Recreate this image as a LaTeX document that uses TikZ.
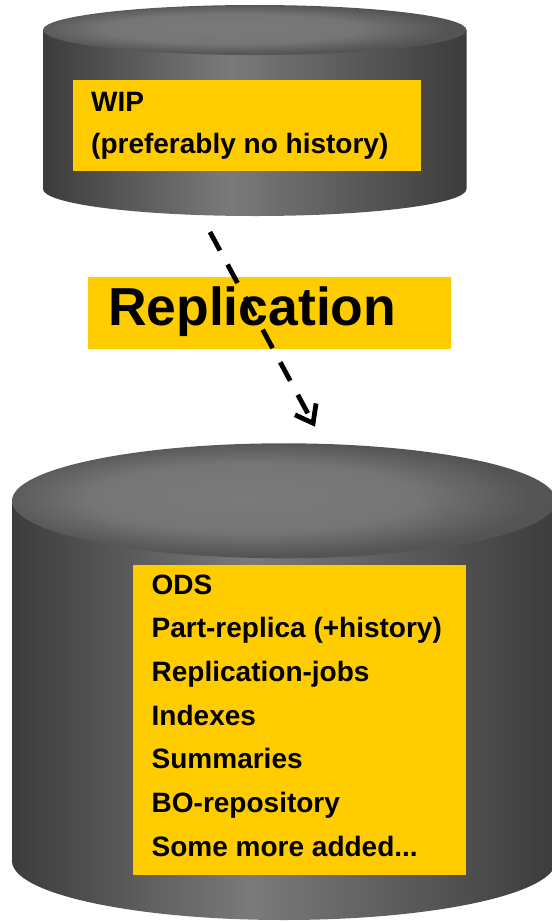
\documentclass[tikz,border=0pt]{standalone}
\usepackage{fontspec}
\setmainfont{Liberation Sans}
\usetikzlibrary{arrows.meta}
\definecolor{dbyellow}{HTML}{FFCC00}
\definecolor{cyldark}{HTML}{3C3C3C}
\definecolor{cyllight}{HTML}{7A7A7A}
\definecolor{cylrim}{HTML}{545454}
\pgfdeclarehorizontalshading{cylside}{100bp}{color(0bp)=(cyldark); color(25bp)=(cyldark); color(47bp)=(cyllight); color(75bp)=(cyldark); color(100bp)=(cyldark)}
\pgfdeclareradialshading{cyltop}{\pgfpoint{-4bp}{2bp}}{color(0bp)=(cyllight); color(15bp)=(cyllight!96!black); color(25bp)=(cylrim); color(50bp)=(cylrim)}
\newcommand{\moredots}{...}
\tikzset{
  dbbox/.style={fill=dbyellow, inner sep=0pt},
  dbtext/.style={anchor=base west, inner sep=0pt, font=\fontsize{28}{34}\selectfont\bfseries},
}
\begin{document}
\begin{tikzpicture}[x=1pt,y=-1pt]
\useasboundingbox (0,0) rectangle (552,922);
% WIP database
\shade[shading=cylside] (43,30) -- (43,189) arc[start angle=180,end angle=0,x radius=211.75,y radius=27] -- (466.5,30) -- cycle;
\shade[shading=cyltop] (254.75,30) ellipse[x radius=211.75,y radius=25];
\node[dbbox, minimum width=348, minimum height=91] (wipbox) at (247,125.5) {};
\node[dbtext] (wip) at (91,111.3) {WIP};
\node[dbtext] (wipnote) at (91,153) {(preferably no history)};
% replication label
\node[dbbox, minimum width=363, minimum height=72] (replbox) at (269.5,312.7) {};
\node[anchor=base west, inner sep=0pt, font=\fontsize{53.5}{60}\selectfont\bfseries] (repl) at (107.8,325) {Replication};
% ODS database
\shade[shading=cylside] (12,500.8) -- (12,861) arc[start angle=180,end angle=0,x radius=272,y radius=59] -- (556,500.8) -- cycle;
\shade[shading=cyltop] (284,500.8) ellipse[x radius=272,y radius=57.5];
\node[dbbox, minimum width=333, minimum height=310] (odsbox) at (299.5,720) {};
\foreach \txt [count=\i from 0] in {ODS, Part-replica (+history), Replication-jobs, Indexes, Summaries, BO-repository, Some more added\moredots}
  \node[dbtext] (item\i) at (151.5,594+43.7*\i) {\txt};
% arrow
\coordinate (replfrom) at (210,232);
\coordinate (replto) at (315,426.7);
\draw[line width=4.8pt, dash pattern=on 21pt off 16pt, -{Straight Barb[length=16pt,width=24pt]}] (replfrom) -- (replto);
\end{tikzpicture}
\end{document}
